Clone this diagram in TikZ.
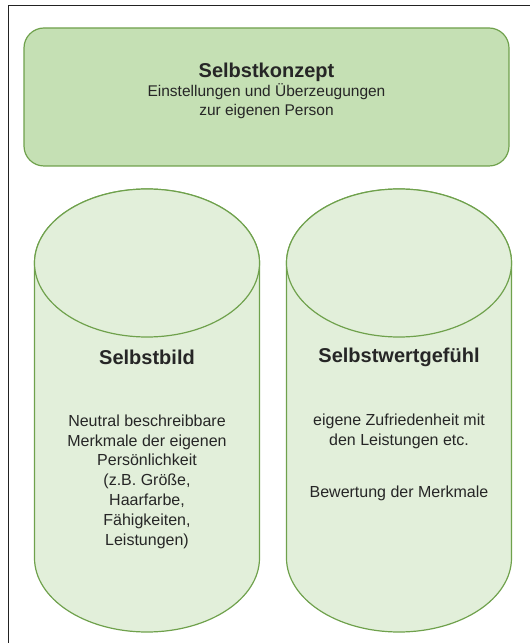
\documentclass[tikz,border=0pt]{standalone}
\usepackage{fontspec}
\setmainfont{Liberation Sans}
\definecolor{boxfill}{HTML}{C5E0B4}
\definecolor{cylfill}{HTML}{E2EFDA}
\definecolor{greenline}{HTML}{6FA14C}
\definecolor{framecol}{HTML}{222222}
\tikzset{
  framepath/.style={draw=framecol, line width=1.4pt},
  topbox/.style={draw=greenline, fill=boxfill, line width=1.2pt, rounded corners=20pt},
  cylpath/.style={draw=greenline, fill=cylfill, line width=1.2pt},
  titletext/.style={inner sep=0pt, font=\fontsize{20}{24}\selectfont\bfseries, text=black!85},
  bodytext/.style={inner sep=0pt, align=center, font=\fontsize{16}{19.8}\selectfont, text=black!85},
  toptext/.style={inner sep=0pt, align=center, font=\fontsize{15.5}{18.5}\selectfont, text=black!85}
}
\begin{document}
\begin{tikzpicture}[x=1pt,y=1pt]
\useasboundingbox (0,0) rectangle (530,643);
% outer frame (only left and top visible)
\coordinate (fbl) at (8.5,0);
\coordinate (ftl) at (8.5,637.5);
\coordinate (ftr) at (530,637.5);
\draw[framepath] (fbl) -- (ftl) -- (ftr);
% top box
\draw[topbox] (24,477) rectangle (509,615);
\node[titletext] (konzept) at (266.5,571) {Selbstkonzept};
\node[toptext] (konzepttext) at (266.5,542) {Einstellungen und Überzeugungen\\zur eigenen Person};
% left cylinder
\draw[cylpath] (34.5,380) -- (34.5,85) arc[start angle=180,end angle=360,x radius=112.5pt,y radius=74pt] -- (259.5,380) arc[start angle=0,end angle=180,x radius=112.5pt,y radius=74pt] -- cycle;
\draw[cylpath] (147,380) ellipse[x radius=112.5pt,y radius=74pt];
\node[titletext] (bild) at (147,286) {Selbstbild};
\node[bodytext] (bildtext) at (147,161.5) {Neutral beschreibbare\\Merkmale der eigenen\\Persönlichkeit\\(z.B. Größe,\\Haarfarbe,\\Fähigkeiten,\\Leistungen)};
% right cylinder
\draw[cylpath] (286.5,380) -- (286.5,85) arc[start angle=180,end angle=360,x radius=112.5pt,y radius=74pt] -- (511.5,380) arc[start angle=0,end angle=180,x radius=112.5pt,y radius=74pt] -- cycle;
\draw[cylpath] (399,380) ellipse[x radius=112.5pt,y radius=74pt];
\node[titletext] (wert) at (399,286) {Selbstwertgefühl};
\node[bodytext] (werttext) at (399,211.5) {eigene Zufriedenheit mit\\den Leistungen etc.};
\node[bodytext] (bewertung) at (399,150) {Bewertung der Merkmale};
\end{tikzpicture}
\end{document}
